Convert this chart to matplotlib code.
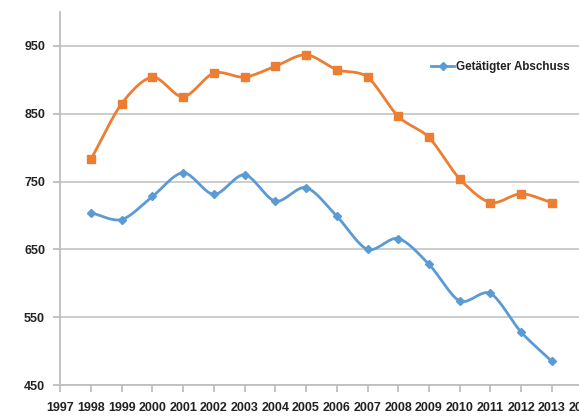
import numpy as np
import matplotlib
matplotlib.use("Agg")
import matplotlib.pyplot as plt
from matplotlib import font_manager

years = list(range(1998, 2014))
geplant = [783, 865, 904, 875, 910, 904, 920, 937, 915, 904, 846, 815, 754, 719, 732, 719]
getaetigt = [704, 694, 728, 763, 731, 760, 721, 741, 699, 650, 666, 628, 574, 585, 528, 485]
xtick_labels = [str(y) for y in range(1997, 2015)]
ytick_values = [450, 550, 650, 750, 850, 950]
legend_label = "Getätigter Abschuss"

ORANGE = "#ED7D31"
BLUE = "#5B9BD5"

FAM = ["Liberation Sans", "DejaVu Sans"]
tick_font = font_manager.FontProperties(family=FAM, weight="bold", size=9)
leg_font = font_manager.FontProperties(family=FAM, weight="bold", size=8.4)


def smooth(xs, ys, n=20):
    xs = np.asarray(xs, float)
    ys = np.asarray(ys, float)
    px = np.concatenate([[2 * xs[0] - xs[1]], xs, [2 * xs[-1] - xs[-2]]])
    py = np.concatenate([[2 * ys[0] - ys[1]], ys, [2 * ys[-1] - ys[-2]]])
    ox, oy = [], []
    t = np.linspace(0, 1, n, endpoint=False)
    for i in range(1, len(px) - 2):
        for P, out in ((px, ox), (py, oy)):
            p0, p1, p2, p3 = P[i - 1], P[i], P[i + 1], P[i + 2]
            m1 = (p2 - p0) / 2 * 0.9
            m2 = (p3 - p1) / 2 * 0.9
            h00 = 2 * t**3 - 3 * t**2 + 1
            h10 = t**3 - 2 * t**2 + t
            h01 = -2 * t**3 + 3 * t**2
            h11 = t**3 - t**2
            out.extend(h00 * p1 + h10 * m1 + h01 * p2 + h11 * m2)
    ox.append(xs[-1]); oy.append(ys[-1])
    return np.array(ox), np.array(oy)


fig = plt.figure(figsize=(5.79, 4.19), dpi=100)
W, H = 579, 419
left_px, right_px, top_px, bottom_px = 60.3, 60.3 + 30.72 * 18, 12, 385
ax = fig.add_axes([left_px / W, 1 - bottom_px / H, (right_px - left_px) / W, (bottom_px - top_px) / H])
ax.set_xlim(1997, 2015)
ax.set_ylim(450, 1000)

for v in ytick_values:
    ax.axhline(v, color="#C8C8C8", lw=1.3, zorder=1)

sx, sy = smooth(years, geplant)
ax.plot(sx, sy, color=ORANGE, lw=2.0, zorder=3)
ax.plot(years, geplant, ls="none", marker="s", ms=5.5, color=ORANGE, zorder=4)

bx, by = smooth(years, getaetigt)
ax.plot(bx, by, color=BLUE, lw=2.0, zorder=3)
ax.plot(years, getaetigt, ls="none", marker="D", ms=4.5, color=BLUE, zorder=4)

ax.plot([], [], color=BLUE, lw=2.0, marker="D", ms=4.5, label=legend_label)
leg = ax.legend(loc="upper left", bbox_to_anchor=((431 - left_px) / (right_px - left_px), (bottom_px - 61) / (bottom_px - top_px)),
                frameon=False, handlelength=2.0, handletextpad=0.15,
                prop=leg_font, borderaxespad=0, borderpad=0)
for t in leg.get_texts():
    t.set_color("#222222")

ax.set_yticks(ytick_values)
ax.set_yticklabels([str(v) for v in ytick_values], fontproperties=tick_font, color="#222222")
ax.set_xticks(range(1997, 2015))
ax.set_xticklabels(xtick_labels, fontproperties=tick_font, color="#222222")

for s in ["top", "right"]:
    ax.spines[s].set_visible(False)
for s in ["left", "bottom"]:
    ax.spines[s].set_color("#BEBEBE")
    ax.spines[s].set_linewidth(1.3)
ax.tick_params(axis="y", length=5, color="#BEBEBE", width=1.3, pad=6)
ax.tick_params(axis="x", length=5, color="#BEBEBE", width=1.3, pad=7)

fig.savefig("out.png", dpi=100)
